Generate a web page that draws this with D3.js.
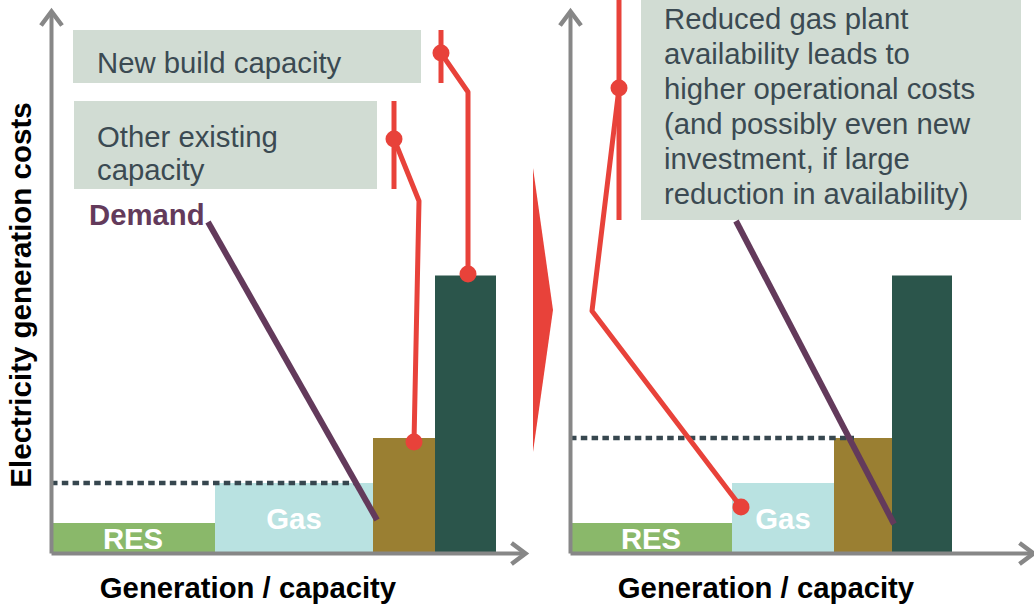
<!DOCTYPE html>
<html>
<head>
<meta charset="utf-8">
<script src="https://cdn.jsdelivr.net/npm/d3@7"></script>
<style>
  html, body { margin: 0; padding: 0; background: #ffffff; }
  svg { display: block; font-family: "Liberation Sans", Arial, Helvetica, sans-serif; }
</style>
</head>
<body>
<svg id="chart" width="1034" height="606"></svg>
<script>
// ---- Merit-order blocks (cost per unit vs. capacity) ----
const plants = ["RES", "Gas", "Other existing", "New build"];
const plantLabels = ["RES", "Gas", "", ""];
const plantCosts = [6, 14, 23, 55.5];
const capacityBefore = [32.8, 31.6, 12.4, 12.2];
const capacityAfter = [32.4, 20.4, 11.6, 12];

// ---- Demand curves (capacity, cost) ----
const demandBefore = [[31.4, 66.2], [65.2, 6.6]];
const demandAfter = [[33.2, 66.4], [64.8, 5.8]];

// ---- Market clearing price (dotted) ----
const clearingBefore = { cost: 14, until: 60.8 };
const clearingAfter = { cost: 23, until: 56.8 };

// ---- Callout leaders: tick span and leader path ----
const otherExistingTick = [[68.6, 90.4], [68.6, 72.8]];
const otherExistingLeader = [[68.6, 82.8], [73.6, 70.4], [72.6, 22.2]];
const newBuildTick = [[78, 104.6], [78, 94]];
const newBuildLeader = [[78, 100], [83.4, 92.2], [83.4, 55.8]];
const gasTickAfter = [[9.8, 110.6], [9.8, 66.6]];
const gasLeaderAfter = [[9.8, 93], [4.4, 48.4], [34.2, 9.2]];

// ---- Callout boxes [x0, x1, yTop, yBottom] and their text ----
const newBuildBox = [4.4, 74, 104.6, 94];
const newBuildText = ["New build capacity"];
const otherBox = [4.6, 65.2, 90.4, 72.8];
const otherText = ["Other existing", "capacity"];
const gasNoteBox = [14.2, 90.2, 110.8, 66.6];
const gasNoteText = [
  "Reduced gas plant",
  "availability leads to",
  "higher operational costs",
  "(and possibly even new",
  "investment, if large",
  "reduction in availability)"
];
const demandLabel = "Demand";

// ---- Transition arrow between panels ----
const transitionArrow = [[96.4, 77], [100.4, 48.6], [96.4, 20.2]];

// ---- Axis titles ----
const xTitle = "Generation / capacity";
const yTitle = "Electricity generation costs";

// ---- Palette ----
const plantColors = ["#8ab86a", "#b9e2e1", "#9a7f32", "#2b554b"];
const RED = "#e8423a";
const PURPLE = "#633a5b";
const BOX = "#d1dcd3";
const BOX_TEXT = "#3b4a52";
const AXIS = "#878787";
const DOTTED = "#37474f";
const FONT = 29.3;

const svg = d3.select("#chart");

// Arrowhead for the axes
svg.append("defs").append("marker")
  .attr("id", "axisHead")
  .attr("markerUnits", "userSpaceOnUse")
  .attr("viewBox", "-20 -15 26 30")
  .attr("markerWidth", 26)
  .attr("markerHeight", 30)
  .attr("refX", 0).attr("refY", 0)
  .attr("orient", "auto")
  .append("polyline")
  .attr("points", "-14,-10.5 0,0 -14,10.5")
  .attr("fill", "none")
  .attr("stroke", AXIS)
  .attr("stroke-width", 4.5)
  .attr("stroke-linejoin", "miter");

const y = d3.scaleLinear().domain([0, 108.4]).range([553, 11]);
const line = (xs) => d3.line().x(d => xs(d[0])).y(d => y(d[1]));

function drawPanel(cfg) {
  const x = d3.scaleLinear().domain([0, cfg.xMax]).range([cfg.x0, cfg.x1]);
  const g = svg.append("g");

  // Merit-order blocks
  const starts = d3.cumsum([0, ...cfg.capacity]);
  const blocks = plants.map((p, i) => ({
    name: p, label: plantLabels[i], cost: plantCosts[i],
    from: starts[i], to: starts[i + 1], color: plantColors[i]
  }));
  g.selectAll("rect.block").data(blocks).join("rect")
    .attr("class", "block")
    .attr("x", d => x(d.from))
    .attr("width", d => x(d.to) - x(d.from))
    .attr("y", d => y(d.cost))
    .attr("height", d => y(0) - y(d.cost))
    .attr("fill", d => d.color);

  g.selectAll("text.blockLabel").data(blocks.filter(d => d.label)).join("text")
    .attr("class", "blockLabel")
    .attr("x", d => x((d.from + d.to) / 2))
    .attr("y", d => (y(d.cost) + y(0)) / 2 + 10.5)
    .attr("text-anchor", "middle")
    .attr("font-weight", "bold")
    .attr("font-size", FONT)
    .attr("fill", "#ffffff")
    .text(d => d.label);

  // Clearing price
  g.append("line")
    .attr("x1", x(0)).attr("x2", x(cfg.clearing.until))
    .attr("y1", y(cfg.clearing.cost)).attr("y2", y(cfg.clearing.cost))
    .attr("stroke", DOTTED).attr("stroke-width", 4.5)
    .attr("stroke-dasharray", "6.5 4.3");

  // Callout boxes
  cfg.boxes.forEach(b => {
    g.append("rect")
      .attr("x", x(b.box[0])).attr("width", x(b.box[1]) - x(b.box[0]))
      .attr("y", y(b.box[2])).attr("height", y(b.box[3]) - y(b.box[2]))
      .attr("fill", BOX);
    const t = g.append("text")
      .attr("x", x(b.tx)).attr("y", y(b.ty))
      .attr("font-size", FONT).attr("fill", BOX_TEXT);
    t.selectAll("tspan").data(b.text).join("tspan")
      .attr("x", x(b.tx))
      .attr("dy", (d, i) => i === 0 ? 0 : b.lh)
      .text(d => d);
  });

  // Demand curve
  g.append("path")
    .attr("d", line(x)(cfg.demand))
    .attr("fill", "none").attr("stroke", PURPLE).attr("stroke-width", 6);

  // Red leaders
  cfg.leaders.forEach(l => {
    g.append("path").attr("d", line(x)(l.tick))
      .attr("fill", "none").attr("stroke", RED).attr("stroke-width", 5);
    g.append("path").attr("d", line(x)(l.path))
      .attr("fill", "none").attr("stroke", RED).attr("stroke-width", 5)
      .attr("stroke-linejoin", "round");
    g.selectAll(null).data([l.path[0], l.path[l.path.length - 1]]).join("circle")
      .attr("cx", d => x(d[0])).attr("cy", d => y(d[1]))
      .attr("r", 8.5).attr("fill", RED);
  });

  // Axes
  const xAxis = g.append("g").attr("transform", `translate(0,${y(0)})`)
    .call(d3.axisBottom(x).tickValues([]).tickSizeOuter(0));
  const yAxis = g.append("g").attr("transform", `translate(${x(0)},0)`)
    .call(d3.axisLeft(y).tickValues([]).tickSizeOuter(0));
  [xAxis, yAxis].forEach(a => a.select(".domain")
    .attr("stroke", AXIS).attr("stroke-width", 4)
    .attr("marker-end", "url(#axisHead)"));

  g.append("text")
    .attr("x", cfg.titleX).attr("y", 598)
    .attr("text-anchor", "middle")
    .attr("font-weight", "bold").attr("font-size", FONT).attr("fill", "#000")
    .text(xTitle);

  return x;
}

// Left panel: current system
const xLeft = drawPanel({
  x0: 51, x1: 525, xMax: 94.8,
  capacity: capacityBefore,
  clearing: clearingBefore,
  demand: demandBefore,
  titleX: 248,
  boxes: [
    { box: newBuildBox, text: newBuildText, tx: 9.2, ty: 96, lh: 33 },
    { box: otherBox, text: otherText, tx: 9.2, ty: 81.2, lh: 33 }
  ],
  leaders: [
    { tick: otherExistingTick, path: otherExistingLeader },
    { tick: newBuildTick, path: newBuildLeader }
  ]
});

svg.append("text")
  .attr("x", xLeft(7.6)).attr("y", y(65.6))
  .attr("font-weight", "bold").attr("font-size", FONT).attr("fill", PURPLE)
  .text(demandLabel);

// Right panel: reduced gas availability
drawPanel({
  x0: 570, x1: 1033, xMax: 92.6,
  capacity: capacityAfter,
  clearing: clearingAfter,
  demand: demandAfter,
  titleX: 766,
  boxes: [
    { box: gasNoteBox, text: gasNoteText, tx: 18.8, ty: 104.8, lh: 34.9 }
  ],
  leaders: [
    { tick: gasTickAfter, path: gasLeaderAfter }
  ]
});

// Transition arrow
svg.append("path")
  .attr("d", d3.line().x(d => xLeft(d[0])).y(d => y(d[1]))(transitionArrow) + "Z")
  .attr("fill", RED);

// Y-axis title
svg.append("text")
  .attr("transform", `translate(31,${(y(0) + y(108.4)) / 2 + 13}) rotate(-90)`)
  .attr("text-anchor", "middle")
  .attr("font-weight", "bold").attr("font-size", 29.5).attr("fill", "#000")
  .text(yTitle);
</script>
</body>
</html>
